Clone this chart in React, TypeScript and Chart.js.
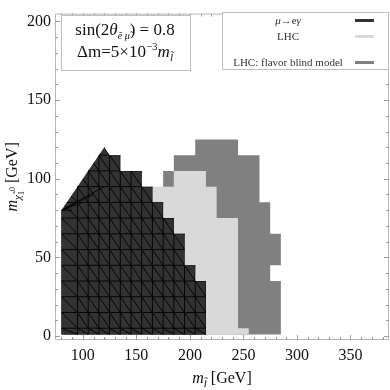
import React, { useEffect, useRef } from "react";
import { Chart, registerables } from "chart.js";
Chart.register(...registerables);

// Region boundaries in (m_slepton, m_neutralino) GeV
const muegX = [80, 80, 120, 125, 135, 135, 155, 155, 165, 165, 175, 175, 185, 185, 195, 195, 205, 205, 215, 215];
const muegY = [1, 80, 120, 115, 115, 105, 105, 95, 95, 85, 85, 75, 75, 65, 65, 45, 45, 35, 35, 1];
const lhcX = [165, 165, 185, 185, 215, 215, 225, 225, 245, 245, 255, 255];
const lhcY = [1, 95, 95, 105, 105, 95, 95, 75, 75, 5, 5, 1];
const blindX = [175, 175, 185, 185, 205, 205, 245, 245, 265, 265, 275, 275, 285, 285, 275, 275, 285, 285];
const blindY = [1, 105, 105, 115, 115, 125, 125, 115, 115, 85, 85, 65, 65, 45, 45, 35, 35, 1];
// mesh of the mu->e gamma region
const meshX = [80, 95, 105, 115, 125, 135, 145, 155, 165, 175, 185, 195, 205, 215];
const meshY = [1, 5, 15, 25, 35, 45, 55, 65, 75, 85, 95, 105, 115, 125];
const xTicks = [100, 150, 200, 250, 300, 350];
const yTicks = [0, 50, 100, 150, 200];
const xMinor = [80, 90, 110, 120, 130, 140, 160, 170, 180, 190, 210, 220, 230, 240, 260, 270, 280, 290, 310, 320, 330, 340, 360, 370, 380];
const yMinor = [10, 20, 30, 40, 60, 70, 80, 90, 110, 120, 130, 140, 160, 170, 180, 190];
const legendLabels = ["μ→eγ", "LHC", "LHC: flavor blind model"];
const colors = { mueg: "#333333", lhc: "#d9d9d9", blind: "#808080" };

const SERIF = "'Liberation Serif', 'DejaVu Serif', serif";

type Seg = { t: string; f: string; dy?: number };
function richWidth(ctx: CanvasRenderingContext2D, segs: Seg[]) {
  let w = 0;
  for (const s of segs) {
    ctx.font = s.f;
    w += ctx.measureText(s.t).width;
  }
  return w;
}
function drawRich(ctx: CanvasRenderingContext2D, segs: Seg[], x: number, y: number) {
  const w = richWidth(ctx, segs);
  let cx = x - w / 2;
  ctx.textAlign = "left";
  ctx.textBaseline = "alphabetic";
  for (const s of segs) {
    ctx.font = s.f;
    ctx.fillText(s.t, cx, y + (s.dy || 0));
    cx += ctx.measureText(s.t).width;
  }
}

const meshPlugin = {
  id: "mesh",
  afterDatasetsDraw(chart: any) {
    const { ctx, chartArea } = chart;
    const xs = chart.scales.x, ys = chart.scales.y;
    const X = (v: number) => xs.getPixelForValue(v);
    const Y = (v: number) => ys.getPixelForValue(v);
    ctx.save();
    ctx.beginPath();
    ctx.rect(chartArea.left, chartArea.top, chartArea.right - chartArea.left, chartArea.bottom - chartArea.top);
    ctx.clip();
    ctx.beginPath();
    muegX.forEach((x, i) => (i ? ctx.lineTo(X(x), Y(muegY[i])) : ctx.moveTo(X(x), Y(muegY[i]))));
    ctx.closePath();
    ctx.clip();
    ctx.strokeStyle = "rgba(0,0,0,0.9)";
    ctx.lineWidth = 1;
    ctx.beginPath();
    for (const x of meshX) {
      ctx.moveTo(X(x), Y(meshY[0]));
      ctx.lineTo(X(x), Y(meshY[meshY.length - 1]));
    }
    for (const y of meshY) {
      ctx.moveTo(X(meshX[0]), Y(y));
      ctx.lineTo(X(meshX[meshX.length - 1]), Y(y));
    }
    for (let i = 0; i < meshX.length - 1; i++) {
      for (let j = 0; j < meshY.length - 1; j++) {
        ctx.moveTo(X(meshX[i]), Y(meshY[j + 1]));
        ctx.lineTo(X(meshX[i + 1]), Y(meshY[j]));
      }
    }
    // fan near the slanted edge
    for (let k = 1; k < 5; k++) {
      ctx.moveTo(X(80), Y(80));
      ctx.lineTo(X(80 + k * 10), Y(75 + k * 5));
    }
    ctx.stroke();
    ctx.restore();
  },
};

const framePlugin = {
  id: "frame",
  afterDraw(chart: any) {
    const { ctx, chartArea: a } = chart;
    const xs = chart.scales.x, ys = chart.scales.y;
    ctx.save();
    ctx.strokeStyle = "#b8b8b8";
    ctx.lineWidth = 1;
    ctx.strokeRect(a.left + 0.5, a.top + 0.5, a.right - a.left - 1, a.bottom - a.top - 1);
    ctx.strokeStyle = "#999";
    ctx.beginPath();
    const tx = (v: number, len: number) => {
      const p = Math.round(xs.getPixelForValue(v)) + 0.5;
      ctx.moveTo(p, a.bottom);
      ctx.lineTo(p, a.bottom - len);
      ctx.moveTo(p, a.top);
      ctx.lineTo(p, a.top + len);
    };
    const ty = (v: number, len: number) => {
      const p = Math.round(ys.getPixelForValue(v)) + 0.5;
      ctx.moveTo(a.left, p);
      ctx.lineTo(a.left + len, p);
      ctx.moveTo(a.right, p);
      ctx.lineTo(a.right - len, p);
    };
    xTicks.forEach((v) => tx(v, 5));
    xMinor.forEach((v) => tx(v, 3));
    yTicks.forEach((v) => ty(v, 5));
    yMinor.forEach((v) => ty(v, 3));
    ctx.stroke();

    ctx.fillStyle = "#111";
    // x title
    drawRich(ctx, [
      { t: "m", f: `italic 16px ${SERIF}` },
      { t: "l\u0303", f: `italic 11px ${SERIF}`, dy: 4 },
      { t: " [GeV]", f: `16px ${SERIF}` },
    ], (a.left + a.right) / 2, 383);
    // y title
    ctx.save();
    ctx.translate(17, (a.top + a.bottom) / 2);
    ctx.rotate(-Math.PI / 2);
    drawRich(ctx, [
      { t: "m", f: `italic 16px ${SERIF}` },
      { t: "χ\u0303", f: `italic 11px ${SERIF}`, dy: 4 },
      { t: "1", f: `8px ${SERIF}`, dy: 7 },
      { t: "0", f: `8px ${SERIF}`, dy: -2 },
      { t: " [GeV]", f: `16px ${SERIF}` },
    ], 0, 0);
    ctx.restore();

    // info box
    ctx.fillStyle = "#fff";
    ctx.fillRect(61, 15, 129, 55);
    ctx.strokeStyle = "#c0c0c0";
    ctx.strokeRect(61.5, 15.5, 129, 55);
    ctx.fillStyle = "#111";
    drawRich(ctx, [
      { t: "sin(2", f: `17px ${SERIF}` },
      { t: "θ", f: `italic 17px ${SERIF}` },
      { t: "e\u0303 μ\u0303", f: `italic 10px ${SERIF}`, dy: 4 },
      { t: ") = 0.8", f: `17px ${SERIF}` },
    ], 125, 35);
    drawRich(ctx, [
      { t: "Δm=5×10", f: `17px ${SERIF}` },
      { t: "−3", f: `11px ${SERIF}`, dy: -7 },
      { t: "m", f: `italic 17px ${SERIF}` },
      { t: "l\u0303", f: `italic 11px ${SERIF}`, dy: 4 },
    ], 125, 57);

    // legend box
    ctx.fillStyle = "#fff";
    ctx.fillRect(222, 12, 166, 57);
    ctx.strokeStyle = "#c0c0c0";
    ctx.strokeRect(222.5, 12.5, 166, 57);
    const ly = [20, 36, 62];
    const lc = [colors.mueg, colors.lhc, colors.blind];
    ctx.fillStyle = "#333";
    drawRich(ctx, [
      { t: "μ", f: `italic 11px ${SERIF}` },
      { t: "→e", f: `11px ${SERIF}` },
      { t: "γ", f: `italic 11px ${SERIF}` },
    ], 288, ly[0] + 4);
    drawRich(ctx, [{ t: legendLabels[1], f: `11px ${SERIF}` }], 288, ly[1] + 4);
    drawRich(ctx, [{ t: legendLabels[2], f: `11px ${SERIF}` }], 288, ly[2] + 4);
    ctx.lineWidth = 3;
    ly.forEach((y, i) => {
      ctx.strokeStyle = lc[i];
      ctx.beginPath();
      ctx.moveTo(355, y + 0.5);
      ctx.lineTo(374, y + 0.5);
      ctx.stroke();
    });
    ctx.restore();
  },
};

const pts = (xs: number[], ys: number[]) => xs.map((x, i) => ({ x, y: ys[i] }));

export default function App() {
  const ref = useRef<HTMLCanvasElement>(null);
  useEffect(() => {
    if (!ref.current) return;
    const tickFont = { family: "'Liberation Serif', serif", size: 16 };
    const chart = new Chart(ref.current, {
      type: "scatter",
      data: {
        datasets: [
          { label: legendLabels[0], data: pts(muegX, muegY), showLine: true, fill: "shape", backgroundColor: colors.mueg, borderWidth: 0, pointRadius: 0 },
          { label: legendLabels[1], data: pts(lhcX, lhcY), showLine: true, fill: "shape", backgroundColor: colors.lhc, borderWidth: 0, pointRadius: 0 },
          { label: legendLabels[2], data: pts(blindX, blindY), showLine: true, fill: "shape", backgroundColor: colors.blind, borderWidth: 0, pointRadius: 0 },
        ] as any,
      },
      options: {
        animation: false,
        responsive: false,
        maintainAspectRatio: false,
        layout: { padding: { top: 5, right: 1, left: 0, bottom: 0 } },
        plugins: { legend: { display: false }, tooltip: { enabled: false } },
        elements: { line: { tension: 0 } },
        scales: {
          x: {
            type: "linear",
            min: 74,
            max: 386,
            grid: { display: false, drawTicks: false },
            border: { display: false },
            ticks: { font: tickFont, color: "#111", padding: 6, maxRotation: 0, autoSkip: false },
            afterBuildTicks: (s: any) => { s.ticks = xTicks.map((v) => ({ value: v })); },
            afterFit: (s: any) => { s.height = 50; },
          },
          y: {
            type: "linear",
            min: -2.5,
            max: 205,
            grid: { display: false, drawTicks: false },
            border: { display: false },
            ticks: { font: tickFont, color: "#111", padding: 4, autoSkip: false },
            afterBuildTicks: (s: any) => { s.ticks = yTicks.map((v) => ({ value: v })); },
            afterFit: (s: any) => { s.width = 55; },
          },
        },
      } as any,
      plugins: [meshPlugin, framePlugin],
    });
    return () => chart.destroy();
  }, []);
  return (
    <div style={{ position: "absolute", left: 0, top: 0, width: 390, height: 390, background: "#fff" }}>
      <canvas ref={ref} width={390} height={390} style={{ display: "block" }} />
    </div>
  );
}
